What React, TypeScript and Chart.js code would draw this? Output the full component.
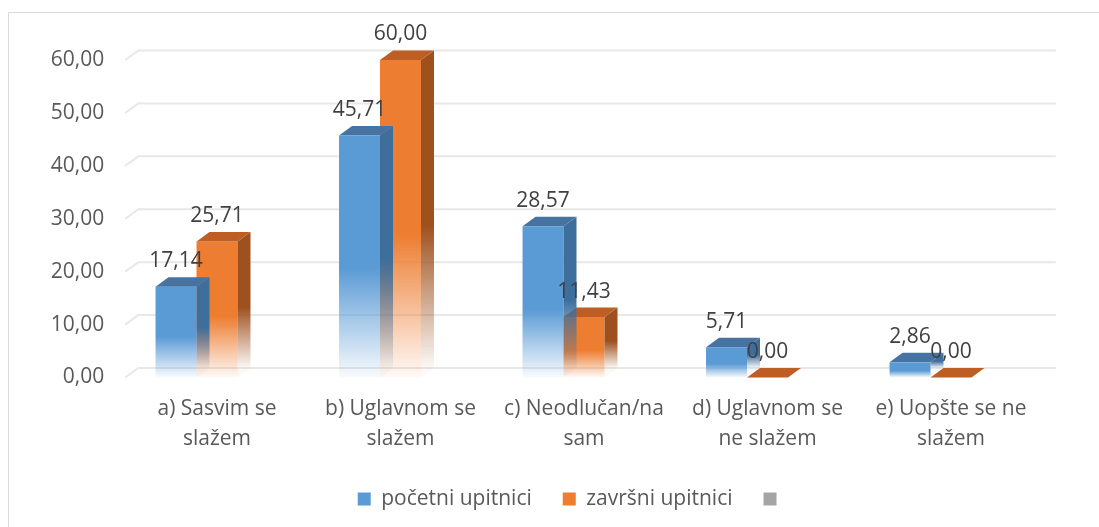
import React, { useEffect, useRef } from 'react';
import { Chart, registerables } from 'chart.js';

Chart.register(...registerables);

const categories: string[][] = [
  ['a) Sasvim se', 'slažem'],
  ['b) Uglavnom se', 'slažem'],
  ['c) Neodlučan/na', 'sam'],
  ['d) Uglavnom se', 'ne slažem'],
  ['e) Uopšte se ne', 'slažem'],
];
const seriesNames = ['početni upitnici', 'završni upitnici', ''];
const pocetniUpitnici = [17.14, 45.71, 28.57, 5.71, 2.86];
const zavrsniUpitnici = [25.71, 60.0, 11.43, 0.0, 0.0];
const trecaSerija: (number | null)[] = [null, null, null, null, null];
const yMin = 0;
const yMax = 60;
const yStep = 10;

const FONT = '"Open Sans", "Noto Sans", sans-serif';
const FS = 21;
const DX = 13;
const DY = -9.5;
const LEGEND_SHIFT = 51;

const palette = [
  { legend: '#5b9bd5', front: '91,155,213', side: '62,110,156', top: '#4673a2' },
  { legend: '#ed7d31', front: '237,125,49', side: '158,80,30', top: '#bd5f25' },
  { legend: '#a5a5a5', front: '165,165,165', side: '120,120,120', top: '#8c8c8c' },
];

const fmt = (v: number) => v.toFixed(2).replace('.', ',');

function fade(ctx: CanvasRenderingContext2D, top: number, bottom: number, rgb: string) {
  const g = ctx.createLinearGradient(0, top, 0, bottom);
  g.addColorStop(0, `rgba(${rgb},1)`);
  g.addColorStop(0.55, `rgba(${rgb},1)`);
  g.addColorStop(1, `rgba(${rgb},0.04)`);
  return g;
}

const frame3d = {
  id: 'frame3d',
  afterLayout(chart: any) {
    if (chart.legend) {
      chart.legend.left += LEGEND_SHIFT;
      chart.legend.right += LEGEND_SHIFT;
    }
  },
  beforeDraw(chart: any) {
    const ctx = chart.ctx as CanvasRenderingContext2D;
    ctx.save();
    ctx.strokeStyle = '#d9d9d9';
    ctx.lineWidth = 1;
    ctx.beginPath();
    ctx.moveTo(8.5, chart.height);
    ctx.lineTo(8.5, 12.5);
    ctx.lineTo(chart.width, 12.5);
    ctx.stroke();
    ctx.restore();
  },
  beforeDatasetsDraw(chart: any) {
    const ctx = chart.ctx as CanvasRenderingContext2D;
    const ys = chart.scales.y;
    const area = chart.chartArea;
    ctx.save();
    ctx.strokeStyle = '#e8e8e8';
    ctx.lineWidth = 2;
    ys.ticks.forEach((t: any) => {
      const p = ys.getPixelForValue(t.value);
      ctx.beginPath();
      ctx.moveTo(area.left, p);
      ctx.lineTo(area.left + DX, p + DY);
      ctx.lineTo(area.right + DX, p + DY);
      ctx.stroke();
    });
    ctx.restore();
  },
  afterDatasetDraw(chart: any, args: any) {
    const ctx = chart.ctx as CanvasRenderingContext2D;
    const idx = args.index;
    const meta = args.meta;
    const ds = chart.data.datasets[idx];
    const col = palette[idx];
    ctx.save();
    meta.data.forEach((el: any, i: number) => {
      const v = ds.data[i];
      if (v === null || v === undefined) return;
      const { x, y, base, width } = el.getProps(['x', 'y', 'base', 'width'], true);
      const xl = x - width / 2;
      const xr = x + width / 2;
      if (base - y > 0.5) {
        ctx.fillStyle = fade(ctx, y, base, col.front);
        ctx.fillRect(xl, y, width, base - y);
        ctx.fillStyle = fade(ctx, y + DY, base + DY, col.side);
        ctx.beginPath();
        ctx.moveTo(xr, y);
        ctx.lineTo(xr + DX, y + DY);
        ctx.lineTo(xr + DX, base + DY);
        ctx.lineTo(xr, base);
        ctx.closePath();
        ctx.fill();
      }
      ctx.fillStyle = col.top;
      ctx.beginPath();
      ctx.moveTo(xl, y);
      ctx.lineTo(xl + DX, y + DY);
      ctx.lineTo(xr + DX, y + DY);
      ctx.lineTo(xr, y);
      ctx.closePath();
      ctx.fill();
    });
    ctx.restore();
  },
  afterDatasetsDraw(chart: any) {
    const ctx = chart.ctx as CanvasRenderingContext2D;
    ctx.save();
    ctx.font = `${FS}px ${FONT}`;
    ctx.fillStyle = '#404040';
    ctx.textAlign = 'center';
    ctx.textBaseline = 'middle';
    chart.data.datasets.forEach((ds: any, di: number) => {
      const meta = chart.getDatasetMeta(di);
      meta.data.forEach((el: any, i: number) => {
        const v = ds.data[i];
        if (v === null || v === undefined) return;
        const { x, y } = el.getProps(['x', 'y'], true);
        ctx.fillText(fmt(v), x, y - 25.5);
      });
    });
    ctx.restore();
  },
};

export default function App() {
  const ref = useRef<HTMLCanvasElement | null>(null);
  useEffect(() => {
    if (!ref.current) return;
    const chart = new Chart(ref.current, {
      type: 'bar',
      data: {
        labels: categories,
        datasets: [
          { label: seriesNames[0], data: pocetniUpitnici, backgroundColor: 'rgba(0,0,0,0)' },
          { label: seriesNames[1], data: zavrsniUpitnici, backgroundColor: 'rgba(0,0,0,0)' },
          { label: seriesNames[2], data: trecaSerija, backgroundColor: 'rgba(0,0,0,0)' },
        ],
      },
      options: {
        animation: false,
        responsive: true,
        maintainAspectRatio: false,
        datasets: { bar: { barPercentage: 1, categoryPercentage: 0.67 } },
        layout: { padding: { left: 0, right: 56.25, top: 60, bottom: 7.5 } },
        plugins: {
          tooltip: { enabled: false },
          legend: {
            position: 'bottom',
            labels: {
              boxWidth: 13,
              boxHeight: 13,
              padding: 31,
              color: '#595959',
              font: { family: FONT, size: FS },
              generateLabels: () =>
                seriesNames.map((n, i) => ({
                  text: n,
                  fillStyle: palette[i].legend,
                  strokeStyle: 'rgba(0,0,0,0)',
                  lineWidth: 0,
                  hidden: false,
                  datasetIndex: i,
                  fontColor: '#595959',
                })),
            },
          },
        },
        scales: {
          x: {
            grid: { display: false, drawTicks: false },
            border: { display: false },
            ticks: {
              autoSkip: false,
              maxRotation: 0,
              minRotation: 0,
              padding: 16.5,
              color: '#595959',
              font: { family: FONT, size: FS, lineHeight: 30 / FS },
            },
            afterFit: (s: any) => {
              s.height = 80;
            },
          },
          y: {
            min: yMin,
            max: yMax,
            grid: { display: false, drawTicks: false },
            border: { display: false },
            ticks: {
              stepSize: yStep,
              padding: 21,
              color: '#595959',
              font: { family: FONT, size: FS },
              callback: (v: any) => fmt(Number(v)),
            },
            afterFit: (s: any) => {
              s.width = 125.25;
            },
          },
        },
      },
      plugins: [frame3d],
    } as any);
    return () => chart.destroy();
  }, []);
  return (
    <div style={{ position: 'fixed', left: 0, top: 0, width: 1099, height: 527, background: '#fff' }}>
      <canvas ref={ref} />
    </div>
  );
}
